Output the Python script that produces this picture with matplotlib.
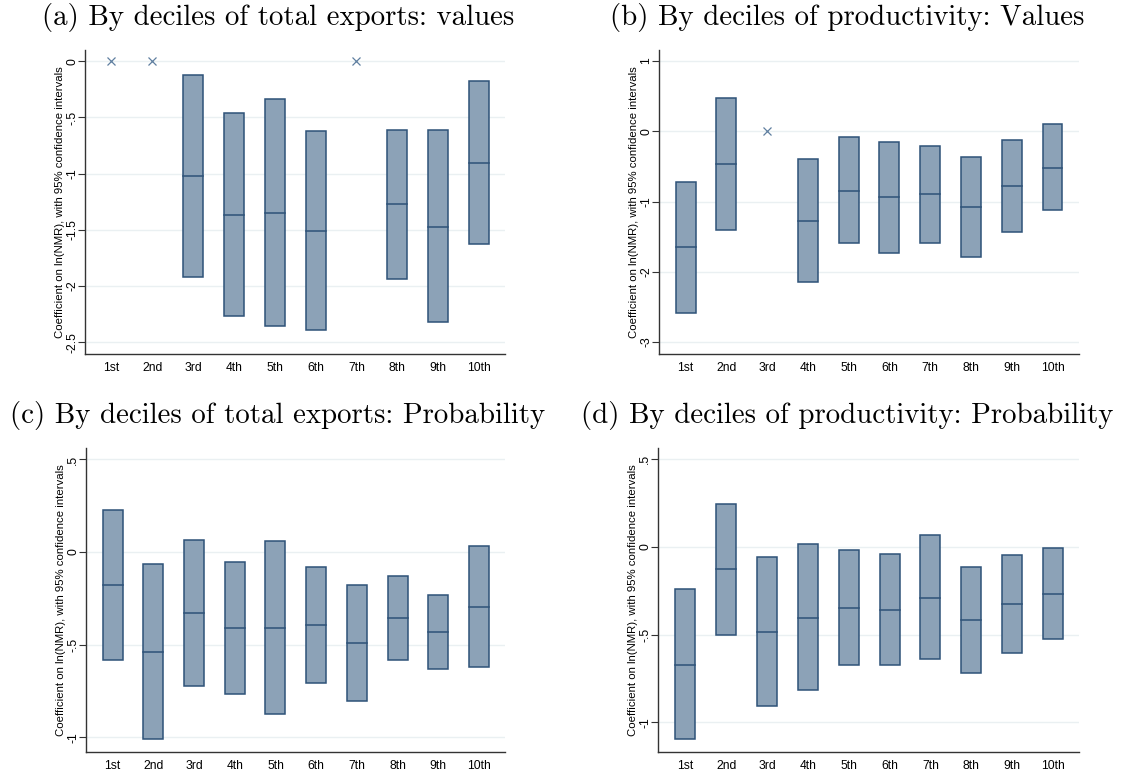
import numpy as np
import matplotlib
matplotlib.use("Agg")
import matplotlib.pyplot as plt
from matplotlib.patches import Rectangle

deciles = ["1st", "2nd", "3rd", "4th", "5th", "6th", "7th", "8th", "9th", "10th"]

# Panel (a): by deciles of total exports, values (None = omitted, shown as x at 0)
a_coef = [None, None, -1.023, -1.367, -1.346, -1.510, None, -1.272, -1.471, -0.902]
a_hi = [None, None, -0.119, -0.463, -0.338, -0.617, None, -0.614, -0.614, -0.175]
a_lo = [None, None, -1.922, -2.269, -2.352, -2.393, None, -1.934, -2.319, -1.622]

# Panel (b): by deciles of productivity, values
b_coef = [-1.651, -0.470, None, -1.281, -0.845, -0.939, -0.897, -1.082, -0.783, -0.527]
b_hi = [-0.726, 0.479, None, -0.399, -0.081, -0.157, -0.209, -0.361, -0.123, 0.100]
b_lo = [-2.581, -1.409, None, -2.140, -1.590, -1.727, -1.590, -1.784, -1.428, -1.125]

# Panel (c): by deciles of total exports, probability
c_coef = [-0.180, -0.540, -0.330, -0.412, -0.411, -0.394, -0.492, -0.358, -0.434, -0.299]
c_hi = [0.229, -0.065, 0.065, -0.056, 0.061, -0.083, -0.176, -0.131, -0.232, 0.032]
c_lo = [-0.585, -1.010, -0.724, -0.767, -0.875, -0.706, -0.805, -0.582, -0.632, -0.623]

# Panel (d): by deciles of productivity, probability
d_coef = [-0.674, -0.126, -0.485, -0.405, -0.346, -0.360, -0.289, -0.419, -0.325, -0.268]
d_hi = [-0.242, 0.247, -0.057, 0.017, -0.017, -0.040, 0.067, -0.114, -0.046, -0.006]
d_lo = [-1.096, -0.500, -0.908, -0.818, -0.674, -0.676, -0.639, -0.719, -0.605, -0.527]

a_ticks = [0, -0.5, -1, -1.5, -2, -2.5]
a_ticklabels = ["0", "-.5", "-1", "-1.5", "-2", "-2.5"]
b_ticks = [1, 0, -1, -2, -3]
b_ticklabels = ["1", "0", "-1", "-2", "-3"]
cd_ticks = [0.5, 0, -0.5, -1]
cd_ticklabels = [".5", "0", "-.5", "-1"]

titles = [
    "(a) By deciles of total exports: values",
    "(b) By deciles of productivity: Values",
    "(c) By deciles of total exports: Probability",
    "(d) By deciles of productivity: Probability",
]
ylabel = "Coefficient on ln(NMR), with 95% confidence intervals"

FILL = "#8ca2b7"
EDGE = "#2e5278"
SANS = ["Liberation Sans", "DejaVu Sans"]

W, H = 1125, 772
fig = plt.figure(figsize=(W / 100, H / 100), dpi=100)
fig.patch.set_facecolor("white")


def px_axes(left, top, right, bottom):
    return fig.add_axes([left / W, 1 - bottom / H, (right - left) / W, (bottom - top) / H])


def draw_panel(ax, coef, hi, lo, ticks, ticklabels, ylim, xlim):
    x = np.arange(1, len(deciles) + 1)
    ax.set_xlim(*xlim)
    ax.set_ylim(*ylim)
    for t in ticks:
        ax.axhline(t, color="#eaf0f2", lw=1.0, zorder=0)
    w = 0.49
    for xi, c, h, l in zip(x, coef, hi, lo):
        if c is None:
            ax.plot([xi], [0], marker="x", ms=6, mew=0.9, color="#5f7fa0",
                    linestyle="none", zorder=3)
            continue
        ax.add_patch(Rectangle((xi - w / 2, l), w, h - l, facecolor=FILL,
                               edgecolor=EDGE, lw=1.1, zorder=2))
        ax.plot([xi - w / 2, xi + w / 2], [c, c], color=EDGE, lw=1.1, zorder=3)
    ax.set_xticks(x)
    ax.set_xticklabels(deciles, fontfamily=SANS, fontsize=8.7)
    ax.set_yticks(ticks)
    ax.set_yticklabels(ticklabels, fontfamily=SANS, fontsize=8.7, rotation=90,
                       va="center")
    ax.tick_params(axis="x", length=0, pad=6)
    ax.tick_params(axis="y", length=5, width=0.8, color="#333333", pad=0)
    for s in ["top", "right"]:
        ax.spines[s].set_visible(False)
    for s in ["left", "bottom"]:
        ax.spines[s].set_color("#333333")
        ax.spines[s].set_linewidth(1.0)
    ax.set_ylabel(ylabel, fontfamily=SANS, fontsize=8.2, labelpad=1)


ax_a = px_axes(85, 50, 505, 354)
draw_panel(ax_a, a_coef, a_hi, a_lo, a_ticks, a_ticklabels, (-2.604, 0.10), (0.355, 10.64))

ax_b = px_axes(659, 50, 1079, 354)
draw_panel(ax_b, b_coef, b_hi, b_lo, b_ticks, b_ticklabels, (-3.17, 1.158), (0.346, 10.65))

ax_c = px_axes(86, 448, 505, 752)
draw_panel(ax_c, c_coef, c_hi, c_lo, cd_ticks, cd_ticklabels, (-1.080, 0.562), (0.345, 10.64))

ax_d = px_axes(658, 448, 1079, 752)
draw_panel(ax_d, d_coef, d_hi, d_lo, cd_ticks, cd_ticklabels, (-1.170, 0.565), (0.33, 10.64))

# Subfigure captions, centred above each panel
title_pos = [(278, 17), (847, 17), (278, 416), (847, 416)]
for (tx, ty), t in zip(title_pos, titles):
    fig.text(tx / W, 1 - ty / H, t, ha="center", va="center",
             fontfamily=["cmr10", "DejaVu Serif"], fontsize=20.8)

fig.savefig("out.png", dpi=100, facecolor="white")
